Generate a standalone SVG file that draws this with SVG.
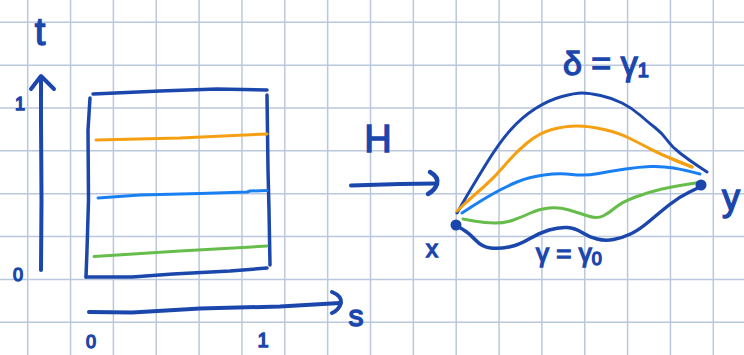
<svg xmlns="http://www.w3.org/2000/svg" width="744" height="355" viewBox="0 0 744 355">
<style>
.grid{stroke:#bac8dd;stroke-width:1.5;fill:none}
.ink{stroke:#1b47ad;fill:none;stroke-linecap:round;stroke-linejoin:round}
.lbl{fill:#1b47ad;stroke:#1b47ad;stroke-width:1.4;font-family:"Liberation Sans","DejaVu Sans",sans-serif}
.or{stroke:#f5a012;fill:none;stroke-width:3;stroke-linecap:round;stroke-linejoin:round}
.lb{stroke:#1a80f2;fill:none;stroke-width:3;stroke-linecap:round;stroke-linejoin:round}
.gr{stroke:#67bd4b;fill:none;stroke-width:3;stroke-linecap:round;stroke-linejoin:round}
</style>
<rect width="744" height="355" fill="#ffffff"/>
<g id="grid">
<path class="grid" d="M27.7,0V355M70.55,0V355M113.4,0V355M156.25,0V355M199.1,0V355M241.95,0V355M284.8,0V355M327.65,0V355M370.5,0V355M413.35,0V355M456.2,0V355M499.05,0V355M541.9,0V355M584.75,0V355M627.6,0V355M670.45,0V355M713.3,0V355"/>
<path class="grid" d="M0,22.3H744M0,65.15H744M0,108H744M0,150.85H744M0,193.7H744M0,236.55H744M0,279.4H744M0,322.25H744"/>
</g>
<g id="t-axis">
<path class="ink" stroke-width="4" d="M41,270 L41.5,200 L41,120 L41,77"/>
<path class="ink" stroke-width="4" d="M31,89 L41,76 L54,89"/>
<text class="lbl" x="40" y="45" font-size="38" text-anchor="middle">t</text>
<text class="lbl" x="20" y="110" font-size="18" text-anchor="middle">1</text>
<text class="lbl" x="18" y="281" font-size="18" text-anchor="middle">0</text>
</g>
<g id="s-axis">
<path class="ink" stroke-width="4" d="M89,312 L132,312.5 L200,308.5 L280,306.5 L340,303"/>
<path class="ink" stroke-width="4" d="M332,292 Q342,296 341,303 Q339,310 332,313"/>
<text class="lbl" x="356" y="326" font-size="30" text-anchor="middle">s</text>
<text class="lbl" x="91" y="348" font-size="18" text-anchor="middle">0</text>
<text class="lbl" x="263" y="347" font-size="20" text-anchor="middle">1</text>
</g>
<g id="square">
<path class="ink" stroke-width="3.5" d="M93,94 L160,91 L217,89 L267,90"/>
<path class="ink" stroke-width="3.5" d="M90,98 L88,130 L88.5,200 L87,250 L86,277"/>
<path class="ink" stroke-width="3.5" d="M86,277 L132,277 L173,274 L230,271 L267,268"/>
<path class="ink" stroke-width="3.5" d="M267,95 L268,170 L269,210 L270,265"/>
<path class="or" d="M96,140 L180,138 L267,134"/>
<path class="lb" d="M98,198 L140,195 L200,193.5 L247,192 L250,191 L267,190.5"/>
<path class="gr" d="M94,256.5 L180,251 L267,246"/>
</g>
<g id="connectors">
<path class="ink" stroke-width="4" d="M351,185.5 L400,184 L436,183.5"/>
<path class="ink" stroke-width="4.5" d="M430,172 Q439,177 437,184 Q435,190 428,194"/>
</g>
<g id="H-label">
<text class="lbl" x="378" y="152" font-size="38" text-anchor="middle">H</text>
</g>
<g id="paths">
<path class="ink" stroke-width="3" d="M457,213 L464.5,200 Q472,187 485.5,165 Q499,143 510.5,130 Q522,117 535.5,108.5 Q549,100 562,96.5 Q575,93 582,93 Q589,93 600.5,95.5 Q612,98 622,103 Q632,108 640.5,115.5 Q649,123 655.5,128 Q662,133 667,140 Q672,147 680.5,153.5 Q689,160 698,166 L707,172"/>
<path class="or" d="M457,211 L464.5,204 Q472,197 483.5,187 Q495,177 505,165 Q515,153 527,143 Q539,133 552,129.5 Q565,126 577,126 Q589,126 604,129.5 Q619,133 629,138 Q639,143 650.5,149 Q662,155 677,161 L692,167"/>
<path class="or" stroke-width="4.5" d="M650,149 Q662,155 677,161 L692,167"/>
<path class="lb" d="M462,213 L472,206.5 Q482,200 493.5,193.5 Q505,187 517,182 Q529,177 544,175 Q559,173 572,174.5 Q585,176 598.5,173.5 Q612,171 625.5,169 Q639,167 650.5,166.5 Q662,166 673.5,168 Q685,170 700,174"/>
<path class="gr" d="M463,219 L474,221 Q485,223 495,223 Q505,223 513.5,220 Q522,217 530.5,213 Q539,209 549,208 Q559,207 569,210 Q579,213 588,216 Q597,219 603,216 Q609,213 615.5,207.5 Q622,202 635.5,197 Q649,192 662,189 Q675,186 702,182"/>
<path class="ink" stroke-width="3.5" d="M457,226 L463,229.5 Q469,233 475.5,240 Q482,247 490.5,248 Q499,249 509,247 Q519,245 529,239 Q539,233 549,230 Q559,227 567,227.5 Q575,228 582,232.5 Q589,237 597,239 Q605,241 613.5,239.5 Q622,238 630.5,234 Q639,230 649,221.5 Q659,213 669,205 Q679,197 689.5,192 L700,187"/>
</g>
<g id="point-x">
<circle cx="456" cy="225" r="5.5" fill="#1b47ad"/>
<text class="lbl" x="432" y="257" font-size="24" text-anchor="middle">x</text>
</g>
<g id="point-y">
<circle cx="701" cy="185" r="5.5" fill="#1b47ad"/>
<text class="lbl" x="731" y="210" font-size="36" text-anchor="middle">y</text>
</g>
<g id="label-top">
<text class="lbl" x="563" y="75" font-size="34">δ = γ<tspan font-size="20" dy="2">1</tspan></text>
</g>
<g id="label-bottom">
<text class="lbl" x="536" y="262" font-size="26">γ = γ<tspan font-size="18" dy="3">0</tspan></text>
</g>
</svg>
